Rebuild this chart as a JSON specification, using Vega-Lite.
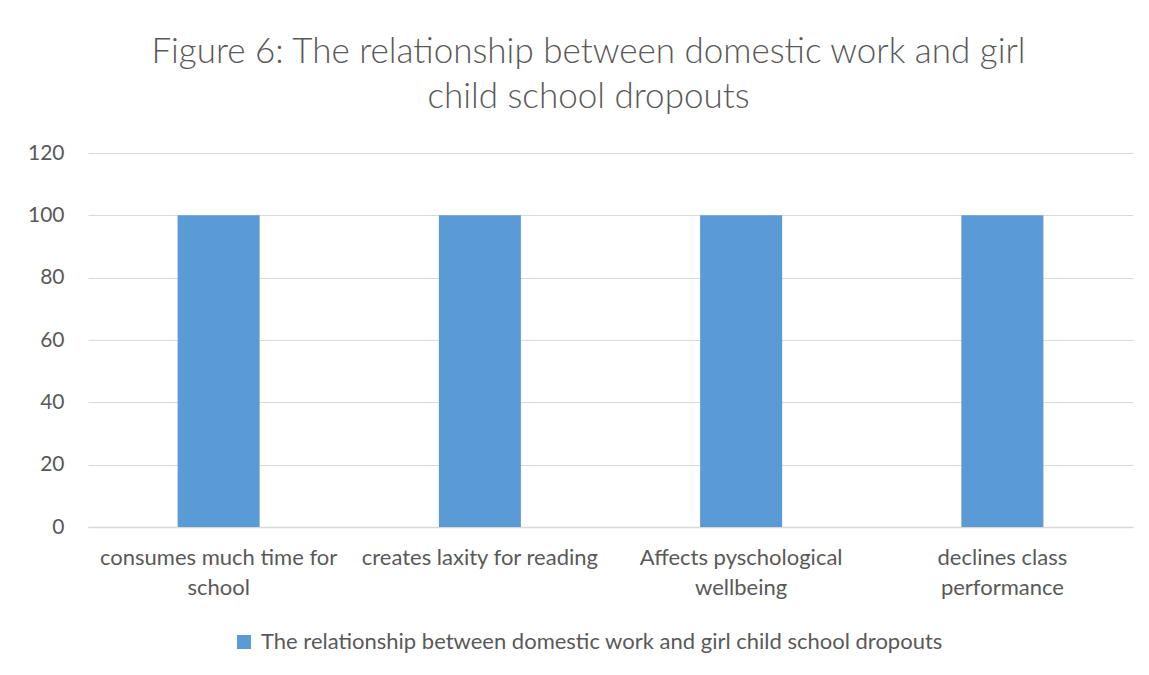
{
  "$schema": "https://vega.github.io/schema/vega-lite/v6.json",
  "autosize": "none",
  "width": 1045,
  "height": 374,
  "padding": {"left": 88, "top": 153, "right": 16, "bottom": 148},
  "background": "white",
  "title": {
    "text": ["Figure 6: The relationship between domestic work and girl", "child school dropouts"],
    "anchor": "middle",
    "dx": -22,
    "offset": 27,
    "font": "Lato",
    "fontSize": 35,
    "fontWeight": 300,
    "color": "#595959",
    "lineHeight": 45
  },
  "data": {
    "values": [
      {"factor": "consumes much time for school", "percent": 100, "series": "The relationship between domestic work and  girl child school dropouts"},
      {"factor": "creates laxity for reading", "percent": 100, "series": "The relationship between domestic work and  girl child school dropouts"},
      {"factor": "Affects pyschological wellbeing", "percent": 100, "series": "The relationship between domestic work and  girl child school dropouts"},
      {"factor": "declines class performance", "percent": 100, "series": "The relationship between domestic work and  girl child school dropouts"}
    ]
  },
  "mark": {"type": "bar"},
  "encoding": {
    "x": {
      "field": "factor",
      "type": "nominal",
      "sort": null,
      "scale": {"paddingInner": 0.686, "paddingOuter": 0.343},
      "axis": {
        "title": null,
        "labelAngle": 0,
        "labelFont": "Lato",
        "labelFontSize": 22,
        "labelColor": "#595959",
        "labelLineHeight": 30,
        "labelPadding": 20,
        "labelLimit": 0,
        "ticks": false,
        "domain": true,
        "domainColor": "#D9D9D9",
        "domainWidth": 1.5,
        "labelExpr": "datum.value == 'consumes much time for school' ? ['consumes much time for', 'school'] : datum.value == 'Affects pyschological wellbeing' ? ['Affects pyschological', 'wellbeing'] : datum.value == 'declines class performance' ? ['declines class', 'performance'] : datum.value"
      }
    },
    "y": {
      "field": "percent",
      "type": "quantitative",
      "scale": {"domain": [0, 120]},
      "axis": {
        "title": null,
        "values": [0, 20, 40, 60, 80, 100, 120],
        "labelFont": "Lato",
        "labelFontSize": 21,
        "labelColor": "#595959",
        "labelPadding": 24,
        "ticks": false,
        "domain": false,
        "gridColor": "#D9D9D9",
        "gridWidth": 1.2
      }
    },
    "color": {
      "field": "series",
      "type": "nominal",
      "scale": {"range": ["#5B9BD5"]},
      "legend": {
        "title": null,
        "orient": "none",
        "legendX": 145,
        "legendY": 478,
        "symbolType": "square",
        "symbolSize": 196,
        "symbolStrokeWidth": 0,
        "labelFont": "Lato",
        "labelFontSize": 22,
        "labelColor": "#595959",
        "labelLimit": 0,
        "labelOffset": 6
      }
    }
  },
  "config": {
    "view": {"stroke": null}
  }
}
